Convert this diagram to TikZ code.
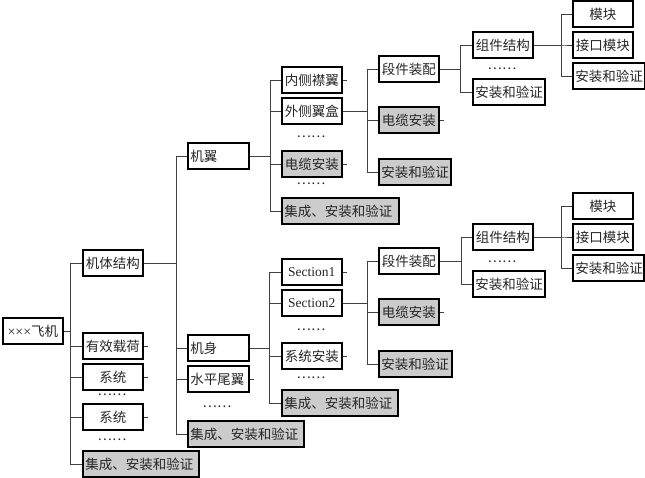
\documentclass[tikz,border=0pt]{standalone}
\usepackage{fontspec}
\setmainfont{Liberation Serif}
\newfontfamily\cjk{Noto Sans CJK SC}
\begin{document}
\begin{tikzpicture}[x=1pt,y=-1pt,
  box/.style={draw=black, line width=1.7pt, minimum height=26pt, minimum width=60pt, inner xsep=2.5pt, inner ysep=0pt, anchor=west, font=\cjk\fontsize{13.5}{14}\selectfont, text=black!85, align=center},
  gbox/.style={box, fill=gray!40},
  lw/.style={text width=#1, align=left},
  latin/.style={font=\fontsize{13.5}{14}\selectfont},
  dots/.style={inner sep=0pt, font=\cjk\fontsize{13.5}{14}\selectfont, text=black!85},
  conn/.style={draw=black!75, line width=0.9pt},
]
\useasboundingbox (0,0) rectangle (645,478);

% level 0
\node[box] (root) at (2,331) {{\rmfamily\fontsize{14}{14}\selectfont ×××}飞机};
% level 1
\node[box] (a1) at (82,263) {机体结构};
\node[box] (a2) at (82,346) {有效载荷};
\node[box] (a3) at (82,377) {系统};
\node[dots] (da1) at (112,395) {……};
\node[box] (a4) at (82,417) {系统};
\node[dots] (da2) at (112,440) {……};
\node[gbox, lw=111pt] (a5) at (82,464) {集成、安装和验证};
% level 2
\node[box, lw=56pt] (b1) at (187,156) {机翼};
\node[box, lw=56pt] (b2) at (187,348) {机身};
\node[box, lw=56pt] (b3) at (187,379) {水平尾翼};
\node[dots] (db1) at (217,407) {……};
\node[gbox, lw=111pt] (b4) at (187,434) {集成、安装和验证};
% wing
\node[box] (c1) at (281,80) {内侧襟翼};
\node[box] (c2) at (281,111) {外侧翼盒};
\node[dots] (dc1) at (311,137) {……};
\node[gbox] (c3) at (281,164) {电缆安装};
\node[dots] (dc2) at (311,184) {……};
\node[gbox, lw=112pt] (c4) at (281,211) {集成、安装和验证};
\node[box] (d1) at (378,69) {段件装配};
\node[gbox] (d2) at (378,120) {电缆安装};
\node[gbox, lw=67pt] (d3) at (378,172) {安装和验证};
\node[box] (e1) at (472,45) {组件结构};
\node[dots] (de1) at (502,69) {……};
\node[box, lw=67pt] (e2) at (472,92) {安装和验证};
\node[box] (f1) at (572,14) {模块};
\node[box] (f2) at (572,45) {接口模块};
\node[box, lw=67pt] (f3) at (572,76) {安装和验证};
% fuselage
\node[box, latin] (g1) at (281,272) {Section1};
\node[box, latin] (g2) at (281,303) {Section2};
\node[dots] (dg1) at (311,330) {……};
\node[box] (g3) at (281,356) {系统安装};
\node[dots] (dg2) at (311,378) {……};
\node[gbox, lw=111pt] (g4) at (281,403) {集成、安装和验证};
\node[box] (h1) at (378,261) {段件装配};
\node[gbox] (h2) at (378,312) {电缆安装};
\node[gbox, lw=68pt] (h3) at (378,364) {安装和验证};
\node[box] (i1) at (472,237) {组件结构};
\node[dots] (di1) at (502,262) {……};
\node[box, lw=67pt] (i2) at (472,284) {安装和验证};
\node[box] (j1) at (572,206) {模块};
\node[box] (j2) at (572,237) {接口模块};
\node[box, lw=66pt] (j3) at (572,268) {安装和验证};

% connectors
\foreach \c in {a1,a2,a3,a4,a5} \draw[conn] (root.east) -- ++(7,0) |- (\c.west);
\foreach \c in {b1,b2,b3,b4} \draw[conn] (a1.east) -- ++(33,0) |- (\c.west);
\foreach \c in {c1,c2,c3,c4} \draw[conn] (b1.east) -- ++(21,0) |- (\c.west);
\foreach \c in {d1,d2,d3} \draw[conn] (c2.east) -- ++(25,0) |- (\c.west);
\foreach \c in {e1,e2} \draw[conn] (d1.east) -- ++(21,0) |- (\c.west);
\foreach \c in {f1,f2,f3} \draw[conn] (e1.east) -- ++(28,0) |- (\c.west);
\foreach \c in {g1,g2,g3,g4} \draw[conn] (b2.east) -- ++(20,0) |- (\c.west);
\foreach \c in {h1,h2,h3} \draw[conn] (g2.east) -- ++(25,0) |- (\c.west);
\foreach \c in {i1,i2} \draw[conn] (h1.east) -- ++(22,0) |- (\c.west);
\foreach \c in {j1,j2,j3} \draw[conn] (i1.east) -- ++(28,0) |- (\c.west);
% stubs
\foreach \c in {a2,a3,a4,b3,c1,c3,d2,g1,g3,h2} \draw[conn] (\c.east) -- ++(4,0);
\end{tikzpicture}
\end{document}
